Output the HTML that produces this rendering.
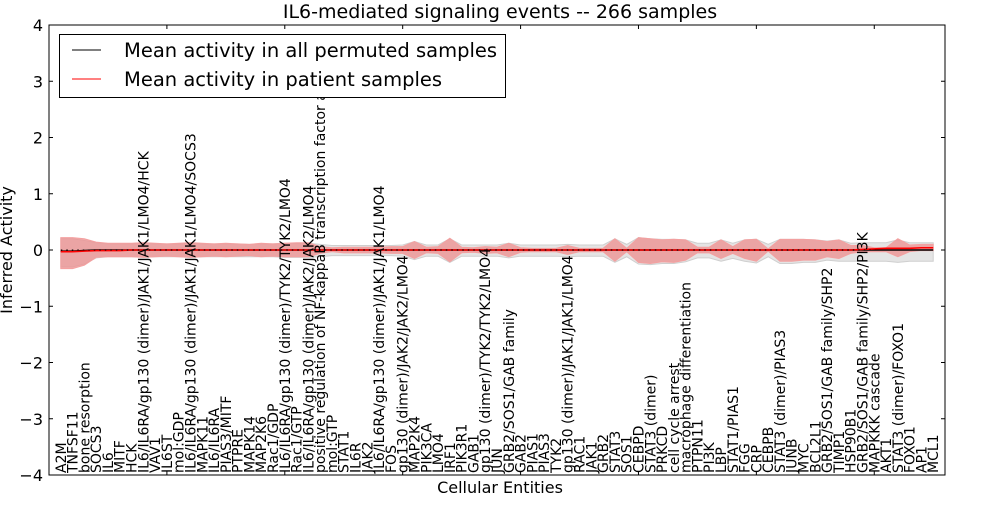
<!DOCTYPE html>
<html><head><meta charset="utf-8"><style>
body{margin:0;background:#fff;}
svg text{font-family:"DejaVu Sans","Liberation Sans",sans-serif;}
</style></head><body>
<svg id="chart" width="1000" height="500" xmlns="http://www.w3.org/2000/svg">
<rect width="1000" height="500" fill="#fff"/>
<text x="500" y="18" font-size="19" text-anchor="middle">IL6-mediated signaling events -- 266 samples</text>
<text transform="translate(12,250) rotate(-90)" font-size="16" text-anchor="middle">Inferred Activity</text>
<text x="500" y="493" font-size="16" text-anchor="middle">Cellular Entities</text>
<g id="plot"></g>
<g id="legend">
<rect x="59.5" y="34.5" width="446" height="63" fill="#fff" stroke="#000" stroke-width="1"/>
<line x1="72" y1="50" x2="101" y2="50" stroke="#000" stroke-width="1"/>
<text x="124" y="57" font-size="19.5">Mean activity in all permuted samples</text>
<line x1="72" y1="79" x2="101" y2="79" stroke="#f00" stroke-width="1"/>
<text x="124" y="86" font-size="19.5">Mean activity in patient samples</text>
</g>
</svg>
<script>
const entities=["A2M","TNFSF11","bone resorption","SOCS3","IL6","MITF","HCK","IL6/IL6RA/gp130 (dimer)/JAK1/JAK1/LMO4/HCK","VAV1","IL6ST","mol:GDP","IL6/IL6RA/gp130 (dimer)/JAK1/JAK1/LMO4/SOCS3","MAPK11","IL6/IL6RA","PIAS3/MITF","PTPRE","MAPK14","MAP2K6","Rac1/GDP","IL6/IL6RA/gp130 (dimer)/TYK2/TYK2/LMO4","Rac1/GTP","IL6/IL6RA/gp130 (dimer)/JAK2/JAK2/LMO4","positive regulation of NF-kappaB transcription factor activity","mol:GTP","STAT1","IL6R","JAK2","IL6/IL6RA/gp130 (dimer)/JAK1/JAK1/LMO4","FOS","gp130 (dimer)/JAK2/JAK2/LMO4","MAP2K4","PIK3CA","LMO4","IRF1","PIK3R1","GAB1","gp130 (dimer)/TYK2/TYK2/LMO4","JUN","GRB2/SOS1/GAB family","GAB2","PIAS1","PIAS3","TYK2","gp130 (dimer)/JAK1/JAK1/LMO4","RAC1","JAK1","GRB2","STAT3","SOS1","CEBPD","STAT3 (dimer)","PRKCD","cell cycle arrest","macrophage differentiation","PTPN11","PI3K","LBP","STAT1/PIAS1","FGG","CRP","CEBPB","STAT3 (dimer)/PIAS3","JUNB","MYC","BCL2L1","GRB2/SOS1/GAB family/SHP2","TIMP1","HSP90B1","GRB2/SOS1/GAB family/SHP2/PI3K","MAPKKK cascade","AKT1","STAT3 (dimer)/FOXO1","FOXO1","AP1","MCL1"];
const patientMean=[-0.03,-0.03,-0.02,-0.01,-0.01,-0.01,0,0,0,0,0,0,0,0,0,0,0,0,0,0,0,0,0,0,0,0,0,0,0,0,0,0,0,0,0,0,0,0,0,0,0,0,0,0,0,0,0,0,0,0,0,0,0,0,0,0,0,0,0,0,0,0,0,0,0,0,0,0,0.01,0.02,0.03,0.03,0.03,0.04,0.04];
const patientUpper=[0.22,0.22,0.2,0.14,0.12,0.12,0.12,0.13,0.12,0.11,0.12,0.13,0.12,0.11,0.12,0.11,0.1,0.12,0.11,0.12,0.13,0.13,0.06,0.04,0.05,0.05,0.05,0.05,0.06,0.06,0.15,0.05,0.06,0.21,0.05,0.04,0.06,0.05,0.12,0.04,0.03,0.03,0.03,0.08,0.03,0.03,0.03,0.2,0.03,0.22,0.2,0.18,0.19,0.18,0.05,0.05,0.18,0.06,0.18,0.19,0.02,0.19,0.19,0.19,0.18,0.15,0.18,0.08,0.08,0.04,0.04,0.2,0.09,0.1,0.1];
const patientLower=[-0.33,-0.33,-0.27,-0.13,-0.12,-0.12,-0.12,-0.13,-0.12,-0.11,-0.12,-0.13,-0.12,-0.11,-0.12,-0.11,-0.1,-0.12,-0.11,-0.12,-0.12,-0.12,-0.06,-0.03,-0.05,-0.05,-0.05,-0.05,-0.06,-0.06,-0.15,-0.05,-0.06,-0.21,-0.05,-0.04,-0.06,-0.05,-0.12,-0.04,-0.03,-0.03,-0.03,-0.08,-0.03,-0.03,-0.03,-0.2,-0.03,-0.22,-0.24,-0.21,-0.22,-0.18,-0.05,-0.05,-0.15,-0.06,-0.15,-0.2,-0.02,-0.2,-0.2,-0.18,-0.18,-0.12,-0.15,-0.06,-0.03,-0.03,-0.03,-0.12,-0.03,-0.01,-0.01];
const permutedMean=[-0.02,-0.02,-0.01,0,0,0,0,0,0,0,0,0,0,0,0,0,0,0,0,0,0,0,0,0,0,0,0,0,0,0,0,0,0,0,0,0,0,0,0,0,0,0,0,0,0,0,0,0,0,0,0,0,0,0,0,0,0,0,0,0,0,0,0,0,0,0,0,0,0,0,0,0,0,0,0];
const permutedUpper=[0.2,0.2,0.17,0.13,0.11,0.11,0.11,0.12,0.11,0.11,0.11,0.12,0.11,0.11,0.11,0.11,0.1,0.11,0.11,0.12,0.12,0.12,0.1,0.08,0.08,0.08,0.08,0.08,0.08,0.09,0.15,0.09,0.09,0.2,0.09,0.09,0.09,0.09,0.12,0.09,0.09,0.09,0.09,0.1,0.09,0.09,0.09,0.2,0.1,0.22,0.2,0.19,0.19,0.18,0.12,0.12,0.18,0.12,0.18,0.19,0.1,0.19,0.19,0.19,0.18,0.16,0.18,0.12,0.13,0.13,0.13,0.18,0.13,0.13,0.13];
const permutedLower=[-0.3,-0.3,-0.25,-0.14,-0.12,-0.12,-0.12,-0.13,-0.12,-0.12,-0.12,-0.13,-0.12,-0.12,-0.12,-0.12,-0.12,-0.12,-0.12,-0.13,-0.13,-0.13,-0.12,-0.1,-0.1,-0.1,-0.1,-0.1,-0.1,-0.11,-0.17,-0.11,-0.11,-0.22,-0.11,-0.11,-0.11,-0.11,-0.14,-0.11,-0.11,-0.11,-0.11,-0.12,-0.11,-0.11,-0.11,-0.22,-0.12,-0.25,-0.26,-0.24,-0.24,-0.21,-0.14,-0.14,-0.2,-0.15,-0.2,-0.23,-0.12,-0.24,-0.24,-0.22,-0.22,-0.18,-0.2,-0.2,-0.2,-0.2,-0.2,-0.22,-0.2,-0.2,-0.2];
const yTicks=[-4,-3,-2,-1,0,1,2,3,4];
const xTicks=[10,20,30,40,50,60,70];

const L=49,R=945,T=25,B=475,XMAX=76,YMIN=-4,YMAX=4;
const xs=v=>L+(v/XMAX)*(R-L);
const ys=v=>B-(v-YMIN)/(YMAX-YMIN)*(B-T);
const NS="http://www.w3.org/2000/svg";
const g=document.getElementById('plot');
function mk(tag,attrs,parent){const e=document.createElementNS(NS,tag);for(const k in attrs)e.setAttribute(k,attrs[k]);(parent||g).appendChild(e);return e;}
function band(up,lo){let p=up.map((v,i)=>xs(i+1)+','+ys(v));for(let i=lo.length-1;i>=0;i--)p.push(xs(i+1)+','+ys(lo[i]));return p.join(' ');}
function line(arr){return arr.map((v,i)=>xs(i+1)+','+ys(v)).join(' ');}

let e;
e=mk('polygon',{points:band(permutedUpper,permutedLower),fill:'#d8d8d8','fill-opacity':'0.7',stroke:'#cfcfcf','stroke-width':'1'});


e=mk('polygon',{points:band(patientUpper,patientLower),fill:'#ee8f8f','fill-opacity':'0.75',stroke:'#f4a0a0','stroke-width':'1'});


e=mk('polyline',{points:line(permutedMean),fill:'none',stroke:'#000','stroke-width':'1.6'});


e=mk('polyline',{points:line(patientMean),fill:'none',stroke:'#f00','stroke-width':'1.6'});


e=mk('line',{x1:xs(1),x2:xs(entities.length),y1:ys(0),y2:ys(0),stroke:'#000','stroke-width':'1','stroke-dasharray':'1.5,4'});



e=mk('rect',{x:L,y:T,width:R-L,height:B-T,fill:'none',stroke:'#000','stroke-width':'1'});



yTicks.forEach(t=>{
  const y=ys(t);
  let a=mk('line',{x1:L,x2:L+4,y1:y,y2:y,stroke:'#000'});
  
  
  a=mk('line',{x1:R-4,x2:R,y1:y,y2:y,stroke:'#000'});
  
  
  a=mk('text',{x:L-6,y:y+6,'font-size':'16','text-anchor':'end'});
  a.textContent=(t<0?'\u2212'+(-t):String(t));
  
  
});
xTicks.forEach(t=>{
  const x=xs(t);
  let a=mk('line',{x1:x,x2:x,y1:B,y2:B-4,stroke:'#000'});
  
  
  a=mk('line',{x1:x,x2:x,y1:T,y2:T+4,stroke:'#000'});
  
  
});
entities.forEach((n,i)=>{
  const x=xs(i+1)+5;
  const a=mk('text',{transform:'translate('+x+',473) rotate(-90)','font-size':'14'});
  a.textContent=n;
  
  
});
</script>
</body></html>
